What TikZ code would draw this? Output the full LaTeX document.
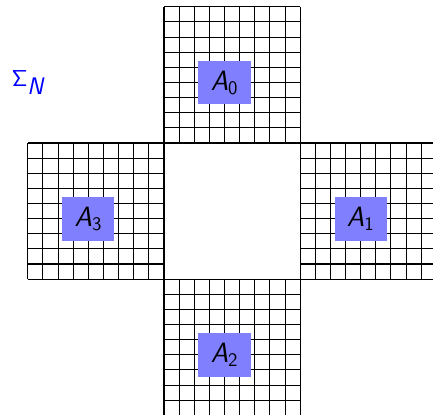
\documentclass[tikz,border=0pt]{standalone}
\usepackage{tikz}
\begin{document}
\begin{tikzpicture}[x=0.4cm,y=0.4cm,
  gridlines/.style={line width=0.8pt, black},
  abox/.style={fill=blue!50, minimum width=1.376cm, minimum height=1.16cm, inner sep=0pt,
    font=\fontsize{21}{24}\selectfont},
  siglabel/.style={text=blue, inner sep=0pt, font=\fontsize{18}{21}\selectfont}]
\clip (-10.84,-8.92) rectangle (17.78,18.45);
\draw[gridlines, step=1] (0,9) grid (9,18);
\draw[gridlines, step=1] (-9,0) grid (0,9);
\draw[gridlines, step=1] (9,0) grid (18,9);
\draw[gridlines, step=1] (0,-9) grid (9,0);
\node[abox] (a0) at (4,13) {$\textsf{\itshape A}_{\mathsf{0}}$};
\node[abox] (a1) at (13,4) {$\textsf{\itshape A}_{\mathsf{1}}$};
\node[abox] (a2) at (4,-5) {$\textsf{\itshape A}_{\mathsf{2}}$};
\node[abox] (a3) at (-5,4) {$\textsf{\itshape A}_{\mathsf{3}}$};
\node[siglabel] (sig) at (-9,13) {$\mathsf{\Sigma}_{\textsf{\itshape N}}$};
\end{tikzpicture}
\end{document}
